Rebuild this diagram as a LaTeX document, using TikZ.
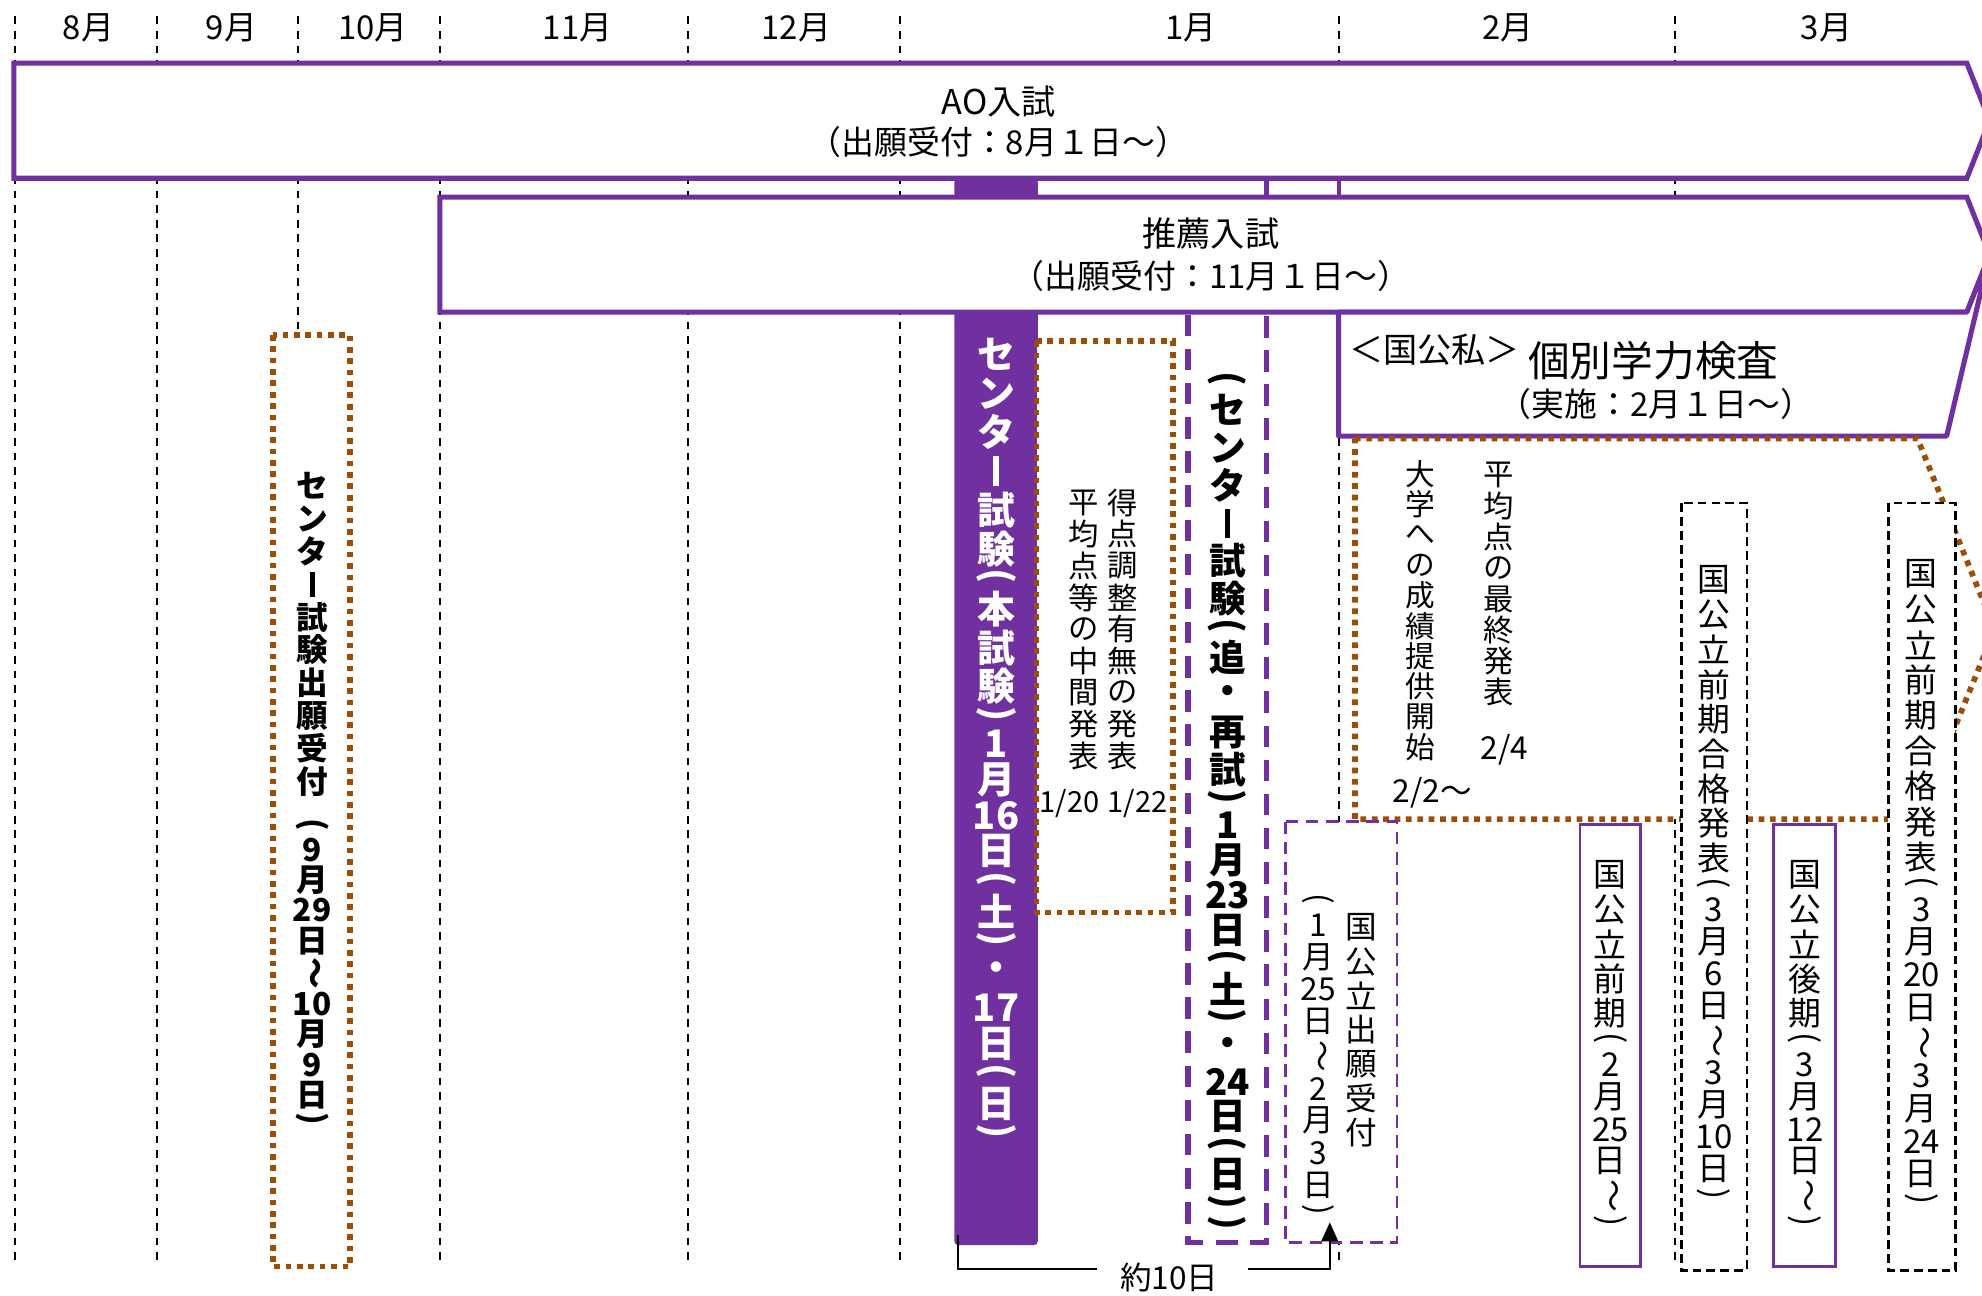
\documentclass[tikz,border=0pt]{standalone}
\usepackage{fontspec}
\usepackage{graphicx}
\setmainfont{Noto Sans CJK JP}
\usetikzlibrary{arrows.meta}
\definecolor{pur}{RGB}{112,48,160}
\definecolor{brn}{RGB}{156,78,8}
\makeatletter
\newdimen\jvH
\newdimen\jvPitch
\newcommand\jvtext[2]{%
  \jvPitch=#1\relax
  \vbox{\offinterlineskip
    \@tfor\jv@x:=#2\do{%
      \global\jvH=\jvPitch
      \setbox0=\hbox{\jv@x}%
      \vbox to \jvH{\vss\hbox to 1.3em{\hss\box0\hss}\vss}%
    }}}
\makeatother
\newcommand\jvP{\global\jvH=0.55\jvH\rotatebox[origin=c]{-90}{(}}
\newcommand\jvQ{\global\jvH=0.55\jvH\rotatebox[origin=c]{-90}{)}}
\newcommand\jvD[1]{\global\jvH=0.85\jvH #1}
\newcommand\jvbw{0.08em}
\newcommand\jvB{\rule{\jvbw}{0.8em}}
\newcommand\jvT{\rotatebox[origin=c]{-90}{～}}
\newcommand\jvS{\global\jvH=0.6\jvH}
\begin{document}
\begin{tikzpicture}[x=1pt,y=-1pt,
  mline/.style={black, line width=1.4pt, dash pattern=on 6pt off 5.5pt},
  pbox/.style={draw=pur, line width=4pt, fill=white},
  brdot/.style={draw=brn, line width=4.5pt, dash pattern=on 4.5pt off 4.5pt, fill=white},
  kdash/.style={draw=black, line width=2.2pt, dash pattern=on 7pt off 4pt, fill=white},
  pdash/.style={draw=pur, line width=2pt, dash pattern=on 10pt off 6pt, fill=white},
  pthin/.style={draw=pur, line width=2.2pt, fill=white},
  pthick/.style={draw=pur, line width=4.5pt, dash pattern=on 17pt off 10pt},
  txt/.style={inner sep=0pt, font=\fontsize{#1}{#1}\selectfont},
  txt/.default=26,
  vreg/.style={inner sep=0pt, anchor=north, font=\fontsize{#1}{#1}\selectfont},
  vbold/.style={inner sep=0pt, anchor=north, font=\bfseries\fontsize{#1}{#1}\selectfont\renewcommand\jvbw{0.15em}}
]
\useasboundingbox (0,0) rectangle (1568,1025);
\fill[white] (0,0) rectangle (1568,1025);

% month separators
\foreach \x in {12,124,236,348,544,712,1059,1325}
  \draw[mline] (\x,13) -- (\x,1000);

% month labels
\foreach \t/\x [count=\i] in {8月/70,9月/183,10月/295,11月/457,12月/630,1月/942,2月/1193,3月/1445}
  \node[txt=26] (m\i) at (\x,22) {\t};

% main exam bar
\fill[pur, rounded corners=3pt] (755,141) rectangle (821,985);

% re-exam box
\fill[white] (940,247) rectangle (1002,983);
\draw[pthick] (940,249) -- (940,983) -- (1002,983) -- (1002,141);
\draw[pur, line width=3pt] (1059,141) -- (1059,160);

% AO and suisen arrows
\draw[pbox] (11,50) -- (1556,50) -- (1574,95.5) -- (1556,141) -- (11,141) -- cycle;
\draw[pbox] (348,156) -- (1556,156) -- (1574,201.5) -- (1556,247) -- (348,247) -- cycle;
\draw[pbox, line join=round] (1059,247) -- (1556,247) -- (1574,201.5) -- (1540,345) -- (1059,345) -- cycle;

% brown dotted shapes
\draw[brdot] (216,265) rectangle (277,1002);
\draw[brdot] (820,270) rectangle (928,722);
\draw[brdot] (1072,347) -- (1517,347) -- (1578,498) -- (1517,648) -- (1072,648) -- cycle;

% application box
\draw[pdash] (1017,650) rectangle (1105,983);

% national boxes
\draw[pthin] (1250,652) rectangle (1298,1002);
\draw[pthin] (1403,652) rectangle (1452,1002);
\draw[kdash] (1330,398) rectangle (1382,1005);
\draw[kdash] (1494,398) rectangle (1547,1005);

% arrow texts
\node[txt=27] (aot) at (790,80) {AO入試};
\node[txt=26] (aod) at (790,112) {（出願受付：8月１日～）};
\node[txt=27] (sst) at (958,185) {推薦入試};
\node[txt=26] (ssd) at (958,218) {（出願受付：11月１日～）};
\node[txt=27] (kks) at (1135,277) {＜国公私＞};
\node[txt=33] (kbt) at (1308,285) {個別学力検査};
\node[txt=26] (kbd) at (1310,320) {（実施：2月１日～）};

% vertical texts
\node[vbold=25] (appl) at (247,371) {\jvtext{26pt}{センタ\jvB 試験出願受付\jvS\jvP{\jvD{9}}月{\jvD{29}}日\jvT{\jvD{10}}月{\jvD{9}}日\jvQ}};
\node[vbold=30, text=white] (mainexam) at (788,265) {\jvtext{30.7pt}{センタ\jvB 試験\jvP 本試験\jvQ{\jvD{1}}月{\jvD{16}}日\jvP 土\jvQ ・{\jvD{17}}日\jvP 日\jvQ}};
\node[vbold=29] (reexam) at (971,293) {\jvtext{29.8pt}{\jvP センタ\jvB 試験\jvP 追・再試\jvQ{\jvD{1}}月{\jvD{23}}日\jvP 土\jvQ ・{\jvD{24}}日\jvP 日\jvQ\jvQ}};

\node[vreg=24] (adj) at (888,385) {\jvtext{25pt}{得点調整有無の発表}};
\node[vreg=24] (mid) at (857,385) {\jvtext{25pt}{平均点等の中間発表}};
\node[txt=23] (d120) at (846,636) {1/20};
\node[txt=23] (d122) at (900,636) {1/22};

\node[vreg=25] (natappl) at (1077,720) {\jvtext{27pt}{国公立出願受付}};
\node[vreg=25] (natappld) at (1043,705) {\jvtext{27.5pt}{\jvP{\jvD{1}}月{\jvD{25}}日\jvT{\jvD{2}}月{\jvD{3}}日\jvQ}};

\node[vreg=23.5] (prov) at (1124,363) {\jvtext{24pt}{大学への成績提供開始}};
\node[vreg=24] (final) at (1186,363) {\jvtext{24.6pt}{平均点の最終発表}};
\node[txt=25] (d24) at (1190,593) {2/4};
\node[txt=25] (d22) at (1133,627) {2/2～};

\node[vreg=26] (zenki) at (1274,678) {\jvtext{27.5pt}{国公立前期\jvP{\jvD{2}}月{\jvD{25}}日\jvT\jvQ}};
\node[vreg=26] (zgk) at (1356,445) {\jvtext{27.5pt}{国公立前期合格発表\jvP{\jvD{3}}月{\jvD{6}}日\jvT{\jvD{3}}月{\jvD{10}}日\jvQ}};
\node[vreg=26] (kouki) at (1428,678) {\jvtext{27.5pt}{国公立後期\jvP{\jvD{3}}月{\jvD{12}}日\jvT\jvQ}};
\node[vreg=26] (zgk2) at (1520,440) {\jvtext{28pt}{国公立前期合格発表\jvP{\jvD{3}}月{\jvD{20}}日\jvT{\jvD{3}}月{\jvD{24}}日\jvQ}};

% ~10 days connector
\coordinate (c1) at (758,977);
\coordinate (l1) at (868,1004);
\coordinate (l2) at (987,1004);
\coordinate (c2) at (1052,967);
\node[txt=25] (yaku) at (925,1011) {約10日};
\draw[line width=2pt] (c1) |- (l1);
\draw[line width=2pt, -{Triangle[width=13pt,length=15pt]}] (l2) -| (c2);
\end{tikzpicture}
\end{document}
